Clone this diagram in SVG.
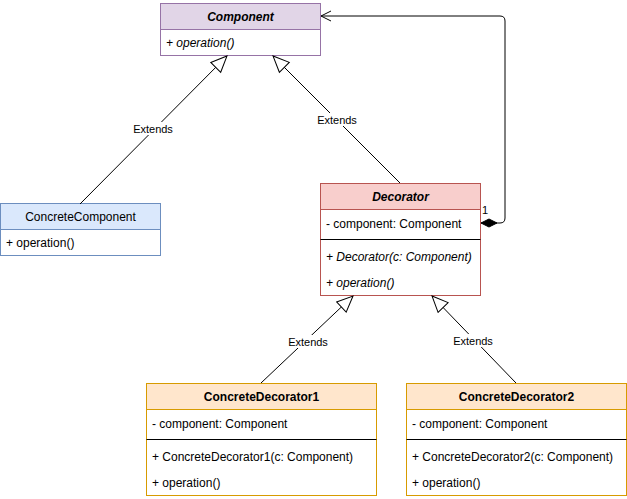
<svg xmlns="http://www.w3.org/2000/svg" width="627" height="499" viewBox="0 0 627 499">
  <style>
    text { font-family: "Liberation Sans", Arial, Helvetica, sans-serif; font-size: 12px; fill: #000; }
    .title { font-weight: bold; text-anchor: middle; }
    .abstract { font-style: italic; }
    .label { font-size: 11px; text-anchor: middle; }
    .edge { fill: none; stroke: #000; stroke-width: 1; }
    .lblbg { fill: #fff; stroke: none; }
  </style>
  <defs>
    <!-- hollow triangle for generalization -->
    <marker id="extends" viewBox="0 0 18 16" refX="17" refY="8" markerWidth="18" markerHeight="16" markerUnits="userSpaceOnUse" orient="auto">
      <path d="M1,1 L17,8 L1,15 Z" fill="#fff" stroke="#000" stroke-width="1"/>
    </marker>
    <!-- open arrow -->
    <marker id="open" viewBox="0 0 12 12" refX="11" refY="6" markerWidth="12" markerHeight="12" markerUnits="userSpaceOnUse" orient="auto">
      <path d="M1,1 L11,6 L1,11" fill="none" stroke="#000" stroke-width="1"/>
    </marker>
    <!-- filled diamond for composition -->
    <marker id="diamond" viewBox="0 0 20 10" refX="1" refY="5" markerWidth="20" markerHeight="10" markerUnits="userSpaceOnUse" orient="auto">
      <path d="M1,5 L9,1 L17,5 L9,9 Z" fill="#000" stroke="#000" stroke-width="1"/>
    </marker>
  </defs>
  <rect width="627" height="499" fill="#fff"/>

  <!-- Component (abstract) -->
  <g id="component">
    <rect x="160.5" y="3.5" width="160" height="52" fill="#e1d5e7" stroke="#9673a6"/>
    <rect x="160.5" y="29.5" width="160" height="26" fill="#fff" stroke="#9673a6"/>
    <text class="title abstract" x="240.5" y="21">Component</text>
    <text class="abstract" x="166" y="47">+ operation()</text>
  </g>

  <!-- ConcreteComponent -->
  <g id="concrete-component">
    <rect x="0.5" y="203.5" width="160" height="52" fill="#dae8fc" stroke="#6c8ebf"/>
    <rect x="0.5" y="229.5" width="160" height="26" fill="#fff" stroke="#6c8ebf"/>
    <text class="title" x="80.5" y="221" style="font-weight:normal">ConcreteComponent</text>
    <text x="6" y="247">+ operation()</text>
  </g>

  <!-- Decorator (abstract) -->
  <g id="decorator">
    <rect x="320.5" y="183.5" width="160" height="112" fill="#f8cecc" stroke="#b85450"/>
    <rect x="320.5" y="209.5" width="160" height="86" fill="#fff" stroke="#b85450"/>
    <line x1="320.5" y1="239.5" x2="480.5" y2="239.5" stroke="#000"/>
    <text class="title abstract" x="400.5" y="201">Decorator</text>
    <text x="326" y="228">- component: Component</text>
    <text class="abstract" x="326" y="261">+ Decorator(c: Component)</text>
    <text class="abstract" x="326" y="287">+ operation()</text>
  </g>

  <!-- ConcreteDecorator1 -->
  <g id="concrete-decorator-1">
    <rect x="146.5" y="383.5" width="230" height="112" fill="#ffe6cc" stroke="#d79b00"/>
    <rect x="146.5" y="409.5" width="230" height="86" fill="#fff" stroke="#d79b00"/>
    <line x1="146.5" y1="439.5" x2="376.5" y2="439.5" stroke="#000"/>
    <text class="title" x="261.5" y="401">ConcreteDecorator1</text>
    <text x="152" y="428">- component: Component</text>
    <text x="152" y="461">+ ConcreteDecorator1(c: Component)</text>
    <text x="152" y="487">+ operation()</text>
  </g>

  <!-- ConcreteDecorator2 -->
  <g id="concrete-decorator-2">
    <rect x="406.5" y="383.5" width="220" height="112" fill="#ffe6cc" stroke="#d79b00"/>
    <rect x="406.5" y="409.5" width="220" height="86" fill="#fff" stroke="#d79b00"/>
    <line x1="406.5" y1="439.5" x2="626.5" y2="439.5" stroke="#000"/>
    <text class="title" x="516.5" y="401">ConcreteDecorator2</text>
    <text x="412" y="428">- component: Component</text>
    <text x="412" y="461">+ ConcreteDecorator2(c: Component)</text>
    <text x="412" y="487">+ operation()</text>
  </g>

  <!-- connectors -->
  <g id="connectors">
    <line class="edge" x1="80" y1="204" x2="227" y2="56" marker-end="url(#extends)"/>
    <line class="edge" x1="400" y1="183" x2="273" y2="56" marker-end="url(#extends)"/>
    <line class="edge" x1="261" y1="383" x2="353" y2="296" marker-end="url(#extends)"/>
    <line class="edge" x1="516" y1="383" x2="432" y2="296" marker-end="url(#extends)"/>
    <path class="edge" d="M481,223 L500,223 Q505,223 505,218 L505,21 Q505,16 500,16 L321,16" marker-start="url(#diamond)" marker-end="url(#open)"/>

    <rect class="lblbg" x="132" y="122" width="42" height="13"/>
    <text class="label" x="153" y="133">Extends</text>
    <rect class="lblbg" x="316" y="113" width="42" height="13"/>
    <text class="label" x="337" y="124">Extends</text>
    <rect class="lblbg" x="287" y="335" width="42" height="13"/>
    <text class="label" x="308" y="346">Extends</text>
    <rect class="lblbg" x="452" y="334" width="42" height="13"/>
    <text class="label" x="473" y="345">Extends</text>
    <text x="482" y="214" style="font-size:11px">1</text>
  </g>
</svg>
